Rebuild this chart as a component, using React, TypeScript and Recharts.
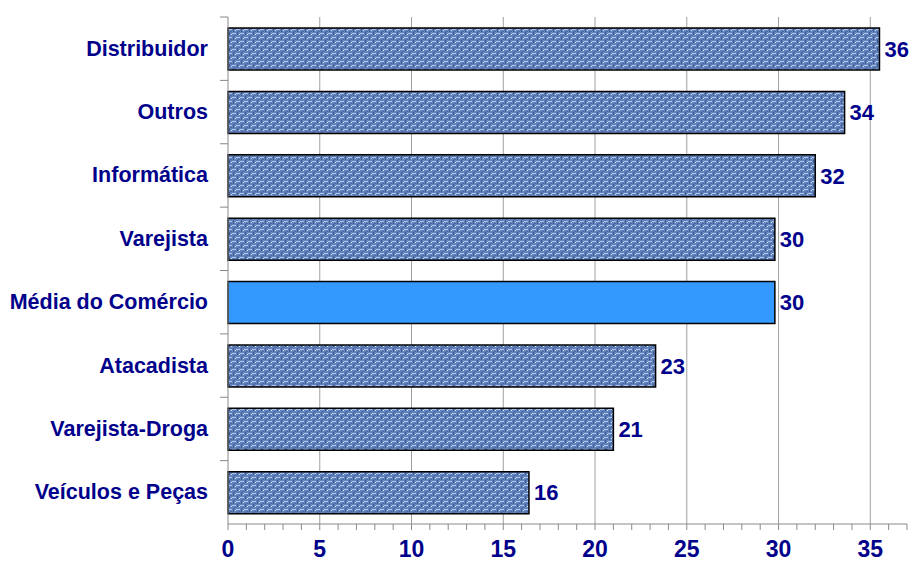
import React from "react";
import { Bar, BarChart, CartesianGrid, Cell, LabelList, XAxis, YAxis } from "recharts";

const categories = [
  "Distribuidor",
  "Outros",
  "Informática",
  "Varejista",
  "Média do Comércio",
  "Atacadista",
  "Varejista-Droga",
  "Veículos e Peças",
];
const values = [35.5, 33.6, 32.0, 29.8, 29.8, 23.3, 21.0, 16.4];
const highlighted = "Média do Comércio";
const axisTicks = Array.from({ length: 38 }, (_, i) => i);
const majorTicks = [0, 5, 10, 15, 20, 25, 30, 35];

const data = categories.map((name, i) => ({ name, value: values[i] }));

const NAVY = "#00008b";
const FONT = "'Liberation Sans', Arial, sans-serif";

function CategoryTick({ x, y, payload }: any) {
  const half = payload?.offset ?? 31.7;
  return (
    <g>
      <line x1={x + 12} x2={x + 20} y1={y - half} y2={y - half} stroke="#888" />
      <text
        x={x}
        y={y}
        dy={7}
        textAnchor="end"
        fill={NAVY}
        fontFamily={FONT}
        fontWeight="bold"
        fontSize={21.5}
      >
        {payload.value}
      </text>
    </g>
  );
}

function ValueTick({ x, y, payload }: any) {
  if (!majorTicks.includes(payload.value)) return null;
  return (
    <text
      x={x}
      y={y}
      dy={25}
      textAnchor="middle"
      fill={NAVY}
      fontFamily={FONT}
      fontWeight="bold"
      fontSize={23}
    >
      {payload.value}
    </text>
  );
}

export default function App() {
  return (
    <div style={{ position: "absolute", left: 0, top: 0, background: "#fff" }}>
      <BarChart
        width={912}
        height={562}
        data={data}
        layout="vertical"
        margin={{ top: 17, right: 5, left: 0, bottom: 0 }}
        barSize={42}
      >
        <defs>
          <pattern id="weave" width="8" height="8" patternUnits="userSpaceOnUse">
            <rect width="8" height="8" fill="#6282bb" />
            <rect x="0" y="1" width="4" height="1" fill="#aec4ea" />
            <rect x="4" y="5" width="4" height="1" fill="#aec4ea" />
            <rect x="5" y="0" width="1" height="3" fill="#3d5c96" />
            <rect x="1" y="4" width="1" height="4" fill="#3d5c96" />
            <rect x="2" y="3" width="2" height="1" fill="#4a6aa5" />
            <rect x="6" y="7" width="2" height="1" fill="#4a6aa5" />
            <rect x="3" y="6" width="1" height="1" fill="#e2ebfb" />
            <rect x="7" y="2" width="1" height="1" fill="#e2ebfb" />
          </pattern>
        </defs>
        <CartesianGrid
          horizontal={false}
          stroke="#a0a0a0"
          verticalValues={majorTicks.slice(1)}
        />
        <XAxis
          type="number"
          domain={[0, 37]}
          ticks={axisTicks}
          interval={0}
          allowDecimals={false}
          tickSize={6}
          tickMargin={2}
          height={38}
          axisLine={{ stroke: "#8a8a8a" }}
          tickLine={{ stroke: "#8a8a8a" }}
          tick={<ValueTick />}
        />
        <YAxis
          type="category"
          dataKey="name"
          width={228}
          axisLine={{ stroke: "#8a8a8a" }}
          tickLine={false}
          tickSize={0}
          tickMargin={20}
          interval={0}
          tick={<CategoryTick />}
        />
        <Bar dataKey="value" stroke="#000" strokeWidth={1.5} isAnimationActive={false}>
          {data.map((d) => (
            <Cell key={d.name} fill={d.name === highlighted ? "#3399ff" : "url(#weave)"} />
          ))}
          <LabelList
            dataKey="value"
            position="right"
            offset={5}
            formatter={(v: any) => Math.round(Number(v))}
            fill={NAVY}
            fontFamily={FONT}
            fontWeight="bold"
            fontSize={22}
          />
        </Bar>
      </BarChart>
    </div>
  );
}
